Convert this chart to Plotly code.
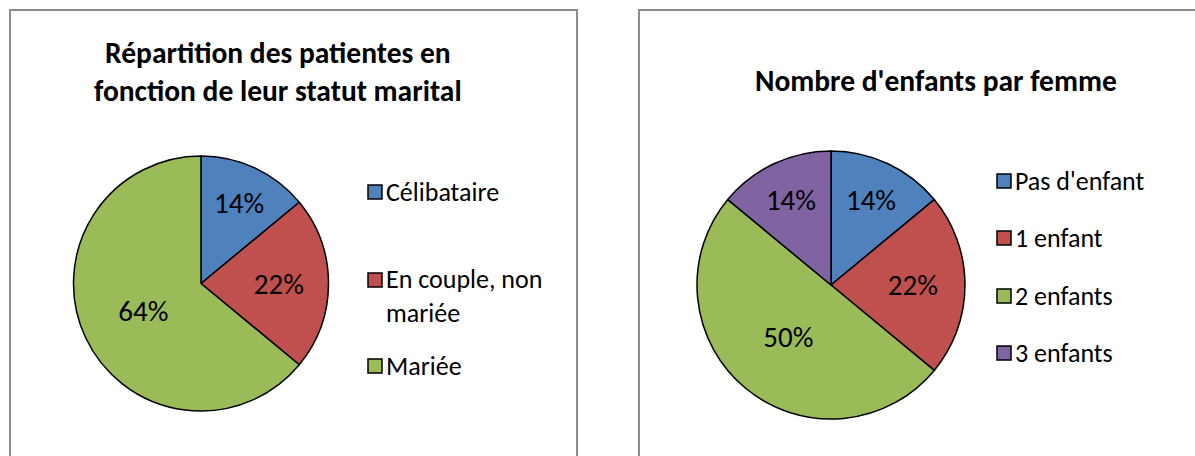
import plotly.graph_objects as go

# ---- data ----
marital_labels = ["Célibataire", "En couple, non mariée", "Mariée"]
marital_legend = ["Célibataire", "En couple, non<br>mariée", "Mariée"]
marital_values = [14, 22, 64]

children_labels = ["Pas d'enfant", "1 enfant", "2 enfants", "3 enfants"]
children_values = [14, 22, 50, 14]

title_left = "Répartition des patientes en<br>fonction de leur statut marital"
title_right = "Nombre d'enfants par femme"

colors_left = ["#4F81BD", "#C0504D", "#9BBB59"]
colors_right = ["#4F81BD", "#C0504D", "#9BBB59", "#8064A2"]

W, H = 1195, 456
FONT = "Carlito, Calibri, Lato, sans-serif"


def px(x):
    return x / W


def py(y):
    return 1 - y / H


fig = go.Figure()

fig.add_trace(go.Pie(
    labels=marital_labels, values=marital_values, sort=False,
    direction="clockwise", rotation=0,
    marker=dict(colors=colors_left, line=dict(color="black", width=1.5)),
    textinfo="percent", texttemplate="%{percent:.0%}",
    textposition="inside", insidetextorientation="horizontal",
    textfont=dict(family=FONT, size=29, color="black"),
    domain=dict(x=[px(73), px(329)], y=[py(411), py(156)]),
    showlegend=False, hoverinfo="label+percent",
))

fig.add_trace(go.Pie(
    labels=children_labels, values=children_values, sort=False,
    direction="clockwise", rotation=0,
    marker=dict(colors=colors_right, line=dict(color="black", width=1.5)),
    textinfo="percent", texttemplate="%{percent:.0%}",
    textposition="inside", insidetextorientation="horizontal",
    textfont=dict(family=FONT, size=29, color="black"),
    domain=dict(x=[px(697), px(965)], y=[py(419), py(151)]),
    showlegend=False, hoverinfo="label+percent",
))

shapes = []
annotations = []

# panel borders
shapes.append(dict(type="rect", xref="paper", yref="paper",
                   x0=px(10), x1=px(577), y0=py(470), y1=py(10),
                   line=dict(color="#8C8C8C", width=2), layer="below"))
shapes.append(dict(type="rect", xref="paper", yref="paper",
                   x0=px(639), x1=px(1215), y0=py(470), y1=py(10),
                   line=dict(color="#8C8C8C", width=2), layer="below"))

# titles
annotations.append(dict(text=f"<b>{title_left}</b>", x=px(278), y=py(72),
                        xref="paper", yref="paper", xanchor="center", yanchor="middle",
                        showarrow=False, align="center",
                        font=dict(family=FONT, size=29.5, color="black")))
annotations.append(dict(text=f"<b>{title_right}</b>", x=px(936), y=py(81),
                        xref="paper", yref="paper", xanchor="center", yanchor="middle",
                        showarrow=False, align="center",
                        font=dict(family=FONT, size=29.5, color="black")))

# manual legends
SQ = 14


def legend_item(x_sq, y_center, color, text, y_text=None):
    shapes.append(dict(type="rect", xref="paper", yref="paper",
                       x0=px(x_sq), x1=px(x_sq + SQ),
                       y0=py(y_center + SQ / 2), y1=py(y_center - SQ / 2),
                       fillcolor=color, line=dict(color="black", width=1.5)))
    annotations.append(dict(text=text, x=px(x_sq + SQ + 2),
                            y=py(y_text if y_text is not None else y_center),
                            xref="paper", yref="paper", xanchor="left", yanchor="middle",
                            showarrow=False, align="left",
                            font=dict(family=FONT, size=26, color="black")))


left_y = [192, 280, 366]
left_text_y = [192, 296, 366]
for i, lab in enumerate(marital_legend):
    legend_item(368, left_y[i], colors_left[i], lab, left_text_y[i])

right_y = [181, 238, 296, 353]
for i, lab in enumerate(children_labels):
    legend_item(997, right_y[i], colors_right[i], lab)

fig.update_layout(
    width=W, height=H, margin=dict(l=0, r=0, t=0, b=0),
    paper_bgcolor="white", plot_bgcolor="white",
    shapes=shapes, annotations=annotations,
    font=dict(family=FONT, color="black"),
)

fig.write_html("out.html", config={"displayModeBar": False},
               post_script="document.body.style.margin='0';")
